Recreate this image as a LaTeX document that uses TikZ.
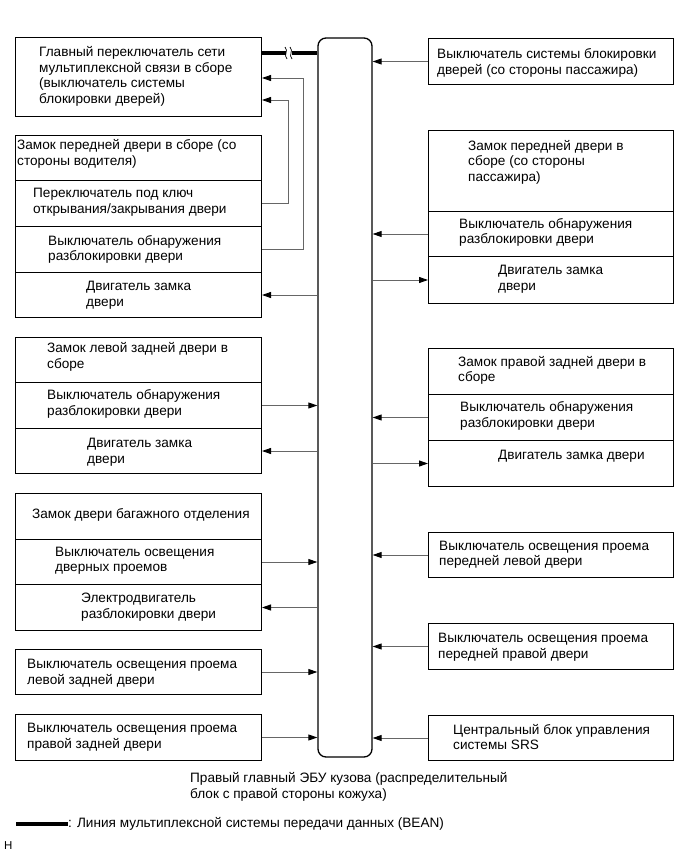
\documentclass[tikz,border=0pt]{standalone}
\usepackage{fontspec}
\setmainfont{Liberation Sans}
\usetikzlibrary{arrows.meta}

\begin{document}
\begin{tikzpicture}[x=1pt,y=-1pt,
  point/.style={coordinate},
  cell/.style={draw=black, line width=1pt, rectangle, anchor=north west, inner sep=0pt},
  lcell/.style={cell, minimum width=246pt},
  rcell/.style={cell, minimum width=245pt},
  txt/.style={anchor=west, align=left, inner sep=0pt, font=\fontsize{13.6}{15.5}\selectfont},
  ecu/.style={draw=black, line width=1.3pt, rounded corners=8pt, rectangle, minimum width=54pt, minimum height=719pt},
  wire/.style={draw=black!60, line width=0.9pt, -{Triangle[length=9pt,width=6pt,color=black]}},
  bean/.style={draw=black, line width=4pt}]
\useasboundingbox (0,0) rectangle (691,854);
% body ECU
\node[ecu] (0) at (345,397.5) {};
% left column
\node[lcell, minimum height=79pt] (1) at (15,37) {};
\node[lcell, minimum height=45pt] (2) at (15,135) {};
\node[lcell, minimum height=46pt] (3) at (15,180) {};
\node[lcell, minimum height=46pt] (4) at (15,226) {};
\node[lcell, minimum height=45pt] (5) at (15,272) {};
\node[lcell, minimum height=45pt] (6) at (15,337) {};
\node[lcell, minimum height=46pt] (7) at (15,382) {};
\node[lcell, minimum height=45pt] (8) at (15,428) {};
\node[lcell, minimum height=46pt] (9) at (15,493) {};
\node[lcell, minimum height=45pt] (10) at (15,539) {};
\node[lcell, minimum height=46pt] (11) at (15,584) {};
\node[lcell, minimum height=45pt] (12) at (15,649) {};
\node[lcell, minimum height=46pt] (13) at (15,714) {};
% right column
\node[rcell, minimum height=46pt] (14) at (428,38) {};
\node[rcell, minimum height=81pt] (15) at (428,130) {};
\node[rcell, minimum height=45pt] (16) at (428,211) {};
\node[rcell, minimum height=47pt] (17) at (428,256) {};
\node[rcell, minimum height=46pt] (18) at (428,348) {};
\node[rcell, minimum height=46pt] (19) at (428,394) {};
\node[rcell, minimum height=46pt] (20) at (428,440) {};
\node[rcell, minimum height=45pt] (21) at (428,532) {};
\node[rcell, minimum height=46pt] (22) at (428,623) {};
\node[rcell, minimum height=45pt] (23) at (428,715) {};
% texts
\node[txt] (t1) at (39,76.5) {Главный переключатель сети\\мультиплексной связи в сборе\\(выключатель системы\\блокировки дверей)};
\node[txt] (t2) at (17,154) {Замок передней двери в сборе (со\\стороны водителя)};
\node[txt] (t3) at (33,202) {Переключатель под ключ\\открывания/закрывания двери};
\node[txt] (t4) at (48,249.5) {Выключатель обнаружения\\разблокировки двери};
\node[txt] (t5) at (86,295) {Двигатель замка\\двери};
\node[txt] (t6) at (47,357) {Замок левой задней двери в\\сборе};
\node[txt] (t7) at (47,404) {Выключатель обнаружения\\разблокировки двери};
\node[txt] (t8) at (87,452) {Двигатель замка\\двери};
\node[txt] (t9) at (32,515) {Замок двери багажного отделения};
\node[txt] (t10) at (55,560.5) {Выключатель освещения\\дверных проемов};
\node[txt] (t11) at (81,607) {Электродвигатель\\разблокировки двери};
\node[txt] (t12) at (27,673) {Выключатель освещения проема\\левой задней двери};
\node[txt] (t13) at (27,737) {Выключатель освещения проема\\правой задней двери};
\node[txt] (t14) at (437,63) {Выключатель системы блокировки\\дверей (со стороны пассажира)};
\node[txt] (t15) at (468,162) {Замок передней двери в\\сборе (со стороны\\пассажира)};
\node[txt] (t16) at (459,232.5) {Выключатель обнаружения\\разблокировки двери};
\node[txt] (t17) at (498,279) {Двигатель замка\\двери};
\node[txt] (t18) at (458,370.5) {Замок правой задней двери в\\сборе};
\node[txt] (t19) at (460,416) {Выключатель обнаружения\\разблокировки двери};
\node[txt] (t20) at (498,456) {Двигатель замка двери};
\node[txt] (t21) at (439,554.5) {Выключатель освещения проема\\передней левой двери};
\node[txt] (t22) at (438,647) {Выключатель освещения проема\\передней правой двери};
\node[txt] (t23) at (453,737) {Центральный блок управления\\системы SRS};
\node[txt] (c) at (190,787) {Правый главный ЭБУ кузова (распределительный\\блок с правой стороны кожуха)};
% BEAN line with break
\node[point] (b1) at (286,53) {};
\node[point] (b2) at (292,53) {};
\draw[bean] (1.east |- b1) -- (b1);
\draw[bean] (b2) -- (b2 -| 0.west);
\draw[line width=0.7pt] (285,47) .. controls (289,51) and (283,55) .. (287,59);
\draw[line width=0.7pt] (290,47) .. controls (294,51) and (288,55) .. (292,59);
% left wires
\draw[wire] (3.east) -- ++(26,0) |- (1.east |- 0,100);
\draw[wire] (4.east) -- ++(41,0) |- (1.east |- 0,78);
\draw[wire] (5.east -| 0.west) -- (5.east);
\draw[wire] (7.east) -- (7.east -| 0.west);
\draw[wire] (8.east -| 0.west) -- (8.east);
\draw[wire] (10.east) -- (10.east -| 0.west);
\draw[wire] (11.east -| 0.west) -- (11.east);
\draw[wire] (12.east) -- (12.east -| 0.west);
\draw[wire] (13.east) -- (13.east -| 0.west);
% right wires
\draw[wire] (14.west) -- (14.west -| 0.east);
\draw[wire] (16.west) -- (16.west -| 0.east);
\draw[wire] (17.west -| 0.east) -- (17.west);
\draw[wire] (19.west) -- (19.west -| 0.east);
\draw[wire] (20.west -| 0.east) -- (20.west);
\draw[wire] (21.west) -- (21.west -| 0.east);
\draw[wire] (22.west) -- (22.west -| 0.east);
\draw[wire] (23.west) -- (23.west -| 0.east);
% legend
\node[point] (k0) at (16,824) {};
\node[txt] (k) at (68,824) {: Линия мультиплексной системы передачи данных (BEAN)};
\draw[bean] (k0) -- (k.west);
\node[txt, font=\fontsize{11.5}{13}\selectfont] (h) at (4,846) {H};
\end{tikzpicture}
\end{document}
